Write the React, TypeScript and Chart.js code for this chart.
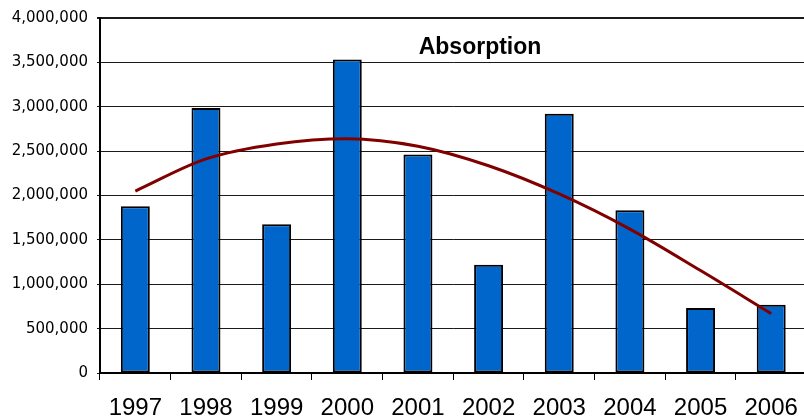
import React, { useEffect, useRef } from "react";
import { Chart, registerables } from "chart.js";

Chart.register(...registerables);

const years = ["1997", "1998", "1999", "2000", "2001", "2002", "2003", "2004", "2005", "2006"];
const absorption = [1879000, 2985000, 1677000, 3533000, 2462000, 1221000, 2921000, 1834000, 732000, 770000];
const trend = [2050000, 2412000, 2581000, 2640000, 2555000, 2335000, 2017000, 1621000, 1154000, 669000];
const yTicksMax = 4000000;
const yStep = 500000;
const titleText = "Absorption";

const titlePlugin = {
  id: "innerTitle",
  afterDraw(chart: any) {
    const { ctx, chartArea } = chart;
    ctx.save();
    ctx.font = "bold 23px 'Liberation Sans', Arial, sans-serif";
    ctx.fillStyle = "#000";
    ctx.textAlign = "center";
    ctx.textBaseline = "alphabetic";
    ctx.fillText(titleText, chartArea.left + 380, chartArea.top + 36);
    ctx.restore();
  },
};

export default function App() {
  const ref = useRef<HTMLCanvasElement | null>(null);
  useEffect(() => {
    if (!ref.current) return;
    const chart = new Chart(ref.current, {
      type: "bar",
      data: {
        labels: years,
        datasets: [
          {
            type: "line",
            label: "Trend",
            data: trend,
            borderColor: "#800000",
            borderWidth: 3,
            pointRadius: 0,
            cubicInterpolationMode: "monotone",
            fill: false,
            order: 0,
          } as any,
          {
            type: "bar",
            label: "Absorption",
            data: absorption,
            backgroundColor: "#0066CC",
            borderColor: "#000000",
            borderWidth: 2,
            borderSkipped: false,
            categoryPercentage: 1,
            barPercentage: 0.41,
            order: 1,
          } as any,
        ],
      },
      options: {
        responsive: false,
        animation: false,
        devicePixelRatio: 1,
        layout: { padding: { top: 16, right: 2, bottom: 0, left: 0 } },
        plugins: {
          legend: { display: false },
          title: { display: false },
          tooltip: { enabled: false },
        },
        scales: {
          x: {
            offset: true,
            grid: {
              display: true,
              offset: true,
              drawOnChartArea: false,
              drawTicks: true,
              tickLength: 7,
              color: "#000",
              lineWidth: 1,
            },
            border: { display: true, color: "#000", width: 2 },
            ticks: {
              color: "#000",
              padding: 14,
              maxRotation: 0,
              autoSkip: false,
              font: { family: "'Liberation Sans', Arial, sans-serif", size: 24 },
            },
            afterFit: (scale: any) => {
              scale.height = 47;
            },
          },
          y: {
            min: 0,
            max: yTicksMax,
            ticks: {
              stepSize: yStep,
              color: "#000",
              padding: 9,
              font: { family: "'DejaVu Sans', sans-serif", size: 15 },
              callback: (v: any) => Number(v).toLocaleString("en-US"),
            },
            grid: {
              color: "#1a1a1a",
              lineWidth: (c: any) => (c.tick && c.tick.value === yTicksMax ? 2 : 1),
              tickLength: 3,
              drawTicks: true,
            },
            border: { display: true, color: "#000", width: 2 },
            afterFit: (scale: any) => {
              scale.width = 100;
            },
          },
        },
      },
      plugins: [titlePlugin],
    });
    return () => chart.destroy();
  }, []);
  return (
    <div style={{ position: "absolute", left: 0, top: 0, width: 804, height: 420, overflow: "hidden", background: "#fff" }}>
      <canvas ref={ref} width={812} height={420} style={{ display: "block", width: 812, height: 420 }} />
    </div>
  );
}
